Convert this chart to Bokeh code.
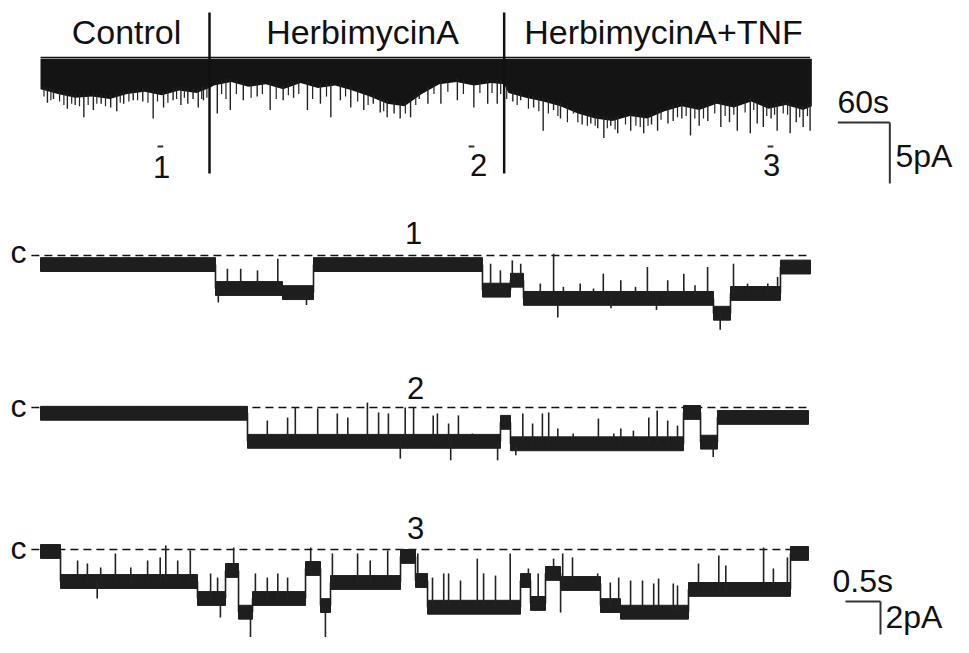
import numpy as np
from bokeh.plotting import figure
from bokeh.models import Range1d
from bokeh.embed import file_html
from bokeh.resources import INLINE
from bokeh.core.properties import value

# ======================= DATA =======================
# --- overview recording (time in s, current in pA, openings downward) ---
ov_env_t = [0, 20, 40, 60, 80, 100, 120, 140, 160, 180, 195,
            200, 220, 240, 260, 280, 300, 320, 340, 360, 380, 400, 420, 440, 460, 480, 500, 520, 535,
            540, 560, 580, 600, 620, 640, 660, 680, 700, 720, 740, 760, 780, 800, 820, 840, 860, 880, 890]
ov_env_pa = [-2.6, -3.0, -3.3, -3.2, -3.4, -3.0, -2.8, -3.1, -2.7, -2.9, -2.5,
             -2.3, -2.0, -2.4, -2.2, -2.6, -2.1, -2.5, -2.3, -2.7, -3.2, -3.8, -4.0, -3.0, -2.2, -2.0, -2.3, -2.1, -2.2,
             -2.9, -3.3, -3.6, -4.0, -4.6, -5.0, -5.2, -4.8, -5.0, -4.4, -4.0, -4.3, -3.8, -4.1, -3.6, -4.2, -3.9, -4.3, -4.0]
ov_band_top_pa = -0.1

ov_spike_t = [8, 15, 31, 40, 50, 61, 70, 81, 88, 96, 107, 118, 130, 142, 153, 162, 170, 176, 182, 188,
              204, 219, 234, 250, 265, 280, 292, 308, 323, 335, 346, 358, 373, 384, 392, 400, 408, 415, 427,
              437, 447, 462, 481, 500, 516, 527,
              545, 554, 569, 580, 592, 600, 615, 625, 635, 643, 650, 658, 666, 681, 696, 705, 712, 724, 730,
              740, 750, 760, 770, 785, 795, 804, 819, 827, 834, 843, 850, 865, 872, 880, 888]
ov_spike_pa = [-3.7, -3.4, -4.2, -3.9, -4.9, -4.3, -3.8, -4.1, -4.4, -3.8, -3.5, -3.6, -5.0, -4.1, -3.5, -3.9, -3.8, -3.4, -4.1, -3.5,
               -4.6, -4.3, -3.5, -3.2, -4.3, -3.5, -3.3, -4.3, -3.8, -4.9, -3.5, -4.1, -4.3, -3.8, -4.5, -4.9, -4.6, -5.0, -4.9,
               -3.4, -3.8, -3.8, -3.5, -4.1, -3.8, -3.8,
               -3.6, -3.5, -4.1, -6.0, -4.3, -5.0, -4.6, -5.5, -5.4, -5.8, -6.6, -5.6, -6.2, -6.0, -6.2, -5.5, -6.0, -5.4, -5.2,
               -5.0, -6.4, -5.6, -5.2, -5.7, -5.3, -6.0, -6.2, -5.4, -5.7, -5.0, -6.0, -6.2, -5.3, -5.7, -6.0]
ov_minor_t = [4, 12, 22, 27, 36, 45, 55, 65, 75, 92, 102, 112, 124, 135, 147, 157, 166, 186, 192,
              209, 214, 226, 243, 256, 272, 286, 298, 314, 330, 352, 366, 378, 396, 421, 433, 454, 470, 488, 507, 521, 531,
              538, 550, 563, 575, 586, 597, 608, 620, 631, 640, 654, 663, 675, 687, 692, 701, 716, 735, 745, 755,
              765, 778, 790, 800, 813, 823, 838, 847, 857, 862, 876, 885]
ov_minor_pa = [-3.2, -3.5, -3.6, -3.9, -3.8, -4.0, -3.9, -3.8, -4.0, -3.7, -3.6, -3.5, -3.7, -3.6, -3.7, -3.4, -3.3, -3.4, -3.3,
               -3.0, -3.4, -3.0, -3.3, -3.0, -3.4, -3.1, -3.0, -3.4, -3.2, -3.2, -3.6, -3.9, -4.4, -4.6, -3.9, -3.0, -2.8, -3.0, -2.9, -2.9, -3.0,
               -3.4, -3.9, -4.2, -4.4, -4.6, -4.8, -5.3, -5.3, -5.6, -5.6, -5.8, -5.9, -5.5, -5.6, -5.7, -5.6, -5.1, -4.9, -4.8, -5.0,
               -5.0, -4.6, -4.8, -4.7, -4.5, -4.3, -4.8, -4.7, -4.6, -4.7, -4.9, -4.8]

section_names = ["Control", "HerbimycinA", "HerbimycinA+TNF"]
section_change_t = [195, 535]
segment_names = ["1", "2", "3"]
segment_start_t = [135, 494, 839]
segment_dur_s = 11.0
ov_bar_s = 60
ov_bar_pa = 5

# --- expanded segments (time in s, current in pA, 0 = closed level "c") ---
seg1_edges = [0, 2.5, 3.457, 3.9, 6.314, 6.714, 6.9, 9.614, 9.857, 10.571, 11.0]
seg1_levels = [-0.55, -2.0, -2.25, -0.55, -2.1, -1.5, -2.6, -3.5, -2.3, -0.7]
seg1_spike_t = [2.54, 2.67, 2.86, 3.1, 3.39, 3.8, 6.43, 6.57, 6.74, 6.86, 7.14, 7.33, 7.39, 7.47, 7.71,
                7.9, 8.04, 8.15, 8.29, 8.5, 8.67, 8.8, 8.96, 9.19, 9.35, 9.53, 9.71, 9.9, 10.1, 10.39, 10.53]
seg1_spike_pa = [-2.85, -0.8, -0.8, -0.9, -0.2, -3.0, -0.5, -0.9, -0.3, -0.5, -1.7, 0.1, -3.75, -1.9, -1.7,
                 -2.0, -1.1, -3.2, -1.5, -1.9, -0.7, -3.3, -1.5, -1.1, -1.8, -0.7, -4.5, -0.5, -1.7, -1.7, -1.3]

seg2_edges = [0, 2.957, 6.571, 6.714, 9.186, 9.429, 9.671, 10.971]
seg2_levels = [-0.35, -2.05, -0.9, -2.2, -0.3, -2.1, -0.6]
seg2_spike_t = [3.24, 3.53, 3.64, 3.96, 4.24, 4.39, 4.67, 4.83, 4.97, 5.14, 5.21, 5.33, 5.61, 5.67, 5.83,
                5.86, 5.97, 6.17, 6.33, 6.53, 6.79, 6.89, 7.03, 7.17, 7.26, 7.39, 7.61, 7.97, 8.19, 8.29,
                8.47, 8.69, 8.81, 8.96, 9.1, 9.61]
seg2_spike_pa = [-0.79, -0.61, 0, -0.06, -0.36, -0.61, 0.3, -0.3, -0.36, -3.1, 0, 0, -0.48, -0.36, -0.97,
                 -3.2, -0.48, -1.58, -1.8, -3.2, -2.9, -0.36, -0.97, -0.36, -0.3, -1.27, -1.58, -0.67, -1.58, -1.27,
                 -1.4, -0.61, -0.18, -0.79, -1.1, -3.0]

seg3_edges = [0, 0.286, 2.243, 2.643, 2.829, 3.029, 3.786, 4.0, 4.143, 5.143, 5.357, 5.529, 6.857, 7.0,
              7.214, 7.429, 8.0, 8.286, 9.257, 10.714, 10.971]
seg3_levels = [-0.12, -1.94, -2.97, -1.27, -3.8, -2.97, -1.15, -3.4, -2.0, -0.42, -1.88, -3.5, -1.88, -3.27,
               -1.45, -2.06, -3.4, -3.8, -2.42, -0.24]
seg3_spike_t = [0.53, 0.67, 0.81, 0.86, 1.07, 1.29, 1.53, 1.71, 1.79, 1.96, 2.14, 2.43, 2.53, 2.57, 2.76,
                3.0, 3.07, 3.24, 3.39, 3.53, 3.86, 4.07, 4.17, 4.53, 4.71, 4.96, 5.39, 5.6, 5.76, 5.83,
                6.0, 6.24, 6.33, 6.5, 6.71, 6.97, 7.11, 7.33, 7.43, 7.46, 7.6, 7.96, 8.14, 8.26, 8.43,
                8.6, 8.76, 8.83, 9.04, 9.1, 9.4, 9.69, 9.79, 10.33, 10.47, 10.67]
seg3_spike_pa = [-0.67, -0.85, -2.97, -1.09, -0.24, -1.09, -0.67, -0.48, 0.24, -0.67, -0.06, -1.45, -1.7, -4.12, 0.12,
                 -5.33, -1.45, -1.7, -1.45, -1.7, 0.12, -5.39, -0.24, -0.24, -0.67, -0.06, -0.24, -1.7, -1.45, -1.45,
                 -1.88, -0.55, -1.45, -1.58, -0.24, -1.15, -1.45, -0.55, -3.82, -0.24, -0.48, -1.45, -2.0, -1.7, -1.88,
                 -1.88, -2.06, -1.76, -2.06, -2.18, -0.85, -0.36, -0.97, 0.12, -1.15, -0.48]
seg_bar_s = 0.5
seg_bar_pa = 2

# ======================= LAYOUT =======================
W, H = 953, 637
INK = "#111111"
FONT = value("Liberation Sans")

# overview scale: 52 px per 60 s, 61 px per 5 pA; origin at (40, 57)
OV_KX, OV_KY, OV_X0, OV_Y0 = 52 / 60, 61 / 5, 40, 57
# segment scale: 70 px per s, 16.5 px per pA; start x 40
SG_KX, SG_KY, SG_X0 = 70.0, 16.5, 40
SG_YC = [255, 407, 549]               # y of dashed closed level

p = figure(width=W, height=H, x_range=Range1d(0, W), y_range=Range1d(H, 0),
           output_backend="svg", toolbar_location=None, min_border=0,
           x_axis_location=None, y_axis_location=None, outline_line_color=None,
           background_fill_color="white", border_fill_color="white")
p.grid.visible = False

p.extra_x_ranges = {
    "ovx": Range1d((0 - OV_X0) / OV_KX, (W - OV_X0) / OV_KX),
    "sx": Range1d((0 - SG_X0) / SG_KX, (W - SG_X0) / SG_KX),
}
p.extra_y_ranges = {"ovy": Range1d((OV_Y0 - H) / OV_KY, (OV_Y0 - 0) / OV_KY)}
for k, yc in enumerate(SG_YC):
    p.extra_y_ranges[f"y{k+1}"] = Range1d((yc - H) / SG_KY, (yc - 0) / SG_KY)

# ---------- overview ----------
p.segment(x0=[0], x1=[888], y0=[0], y1=[0], x_range_name="ovx", y_range_name="ovy",
          line_color=INK, line_width=1.5)
p.varea(x=ov_env_t, y1=[ov_band_top_pa] * len(ov_env_t), y2=ov_env_pa,
        x_range_name="ovx", y_range_name="ovy", fill_color="#141414")
for st, sp, lw in ((ov_minor_t, ov_minor_pa, 1.2), (ov_spike_t, ov_spike_pa, 1.4)):
    t = np.array(st, dtype=float)
    base = np.interp(t, ov_env_t, ov_env_pa) + 0.3
    p.segment(x0=t, x1=t, y0=base, y1=sp, x_range_name="ovx", y_range_name="ovy",
              line_color="#222222", line_width=lw)
# drug application dividers
p.segment(x0=section_change_t, x1=section_change_t, y0=[12] * 2, y1=[173] * 2,
          x_range_name="ovx", line_color=INK, line_width=2.5)
# segment markers
seg_t0 = np.array(segment_start_t, dtype=float)
p.segment(x0=seg_t0, x1=seg_t0 + segment_dur_s * 0.6, y0=[146] * 3, y1=[146] * 3,
          x_range_name="ovx", line_color="#333333", line_width=2)
# overview scale bar
OVB_T, OVB_I = 980, -5.33
p.segment(x0=[OVB_T - ov_bar_s, OVB_T], x1=[OVB_T, OVB_T], y0=[OVB_I, OVB_I], y1=[OVB_I, OVB_I - ov_bar_pa],
          x_range_name="ovx", y_range_name="ovy", line_color="#333333", line_width=2)

# ---------- expanded segments ----------
BAND = 0.42
segs = [(seg1_edges, seg1_levels, seg1_spike_t, seg1_spike_pa),
        (seg2_edges, seg2_levels, seg2_spike_t, seg2_spike_pa),
        (seg3_edges, seg3_levels, seg3_spike_t, seg3_spike_pa)]
for k, (edges, levels, st, sp) in enumerate(segs):
    yn = f"y{k+1}"
    e = np.array(edges, dtype=float)
    L = np.array(levels, dtype=float)
    end_t = e[-1]
    p.segment(x0=[-0.13], x1=[end_t], y0=[0], y1=[0], x_range_name="sx", y_range_name=yn,
              line_color=INK, line_width=1.6, line_dash="8 5")
    p.quad(left=e[:-1], right=e[1:], bottom=L - BAND, top=L + BAND, x_range_name="sx", y_range_name=yn,
           fill_color="#1e1e1e", line_color="#1e1e1e", line_width=1)
    p.segment(x0=e[1:-1], x1=e[1:-1], y0=L[:-1], y1=L[1:], x_range_name="sx", y_range_name=yn,
              line_color="#1e1e1e", line_width=1.6)
    t = np.array(st, dtype=float)
    idx = np.searchsorted(e, t, side="right") - 1
    p.segment(x0=t, x1=t, y0=L[idx], y1=sp, x_range_name="sx", y_range_name=yn,
              line_color="#222222", line_width=1.6)

# segment scale bar (drawn in trace-3 units)
SB_T, SB_I = 12.0, -3.15
p.segment(x0=[SB_T - seg_bar_s, SB_T], x1=[SB_T, SB_T], y0=[SB_I, SB_I], y1=[SB_I, SB_I - seg_bar_pa],
          x_range_name="sx", y_range_name="y3", line_color="#333333", line_width=2)

# ---------- texts (y = visual middle of the glyph line) ----------
def txt(xs, ys, labels, size, align):
    p.text(x=xs, y=ys, text=labels, text_font=FONT, text_font_size=f"{size}px",
           text_align=align, text_baseline="middle", text_color=INK)

txt([126, 362, 663], [31, 31, 31], section_names, 34, "center")
txt([161, 478, 771], [166, 164, 164], segment_names, 31, "center")
txt([413, 415, 415], [232, 387, 527], segment_names, 31, "center")
txt([10, 10, 10], [251, 405, 547], ["c", "c", "c"], 32, "left")
txt([837, 895, 832, 885], [101, 155, 580, 616], ["60s", "5pA", "0.5s", "2pA"], 32, "left")

open("out.html", "w").write(file_html(p, INLINE))
